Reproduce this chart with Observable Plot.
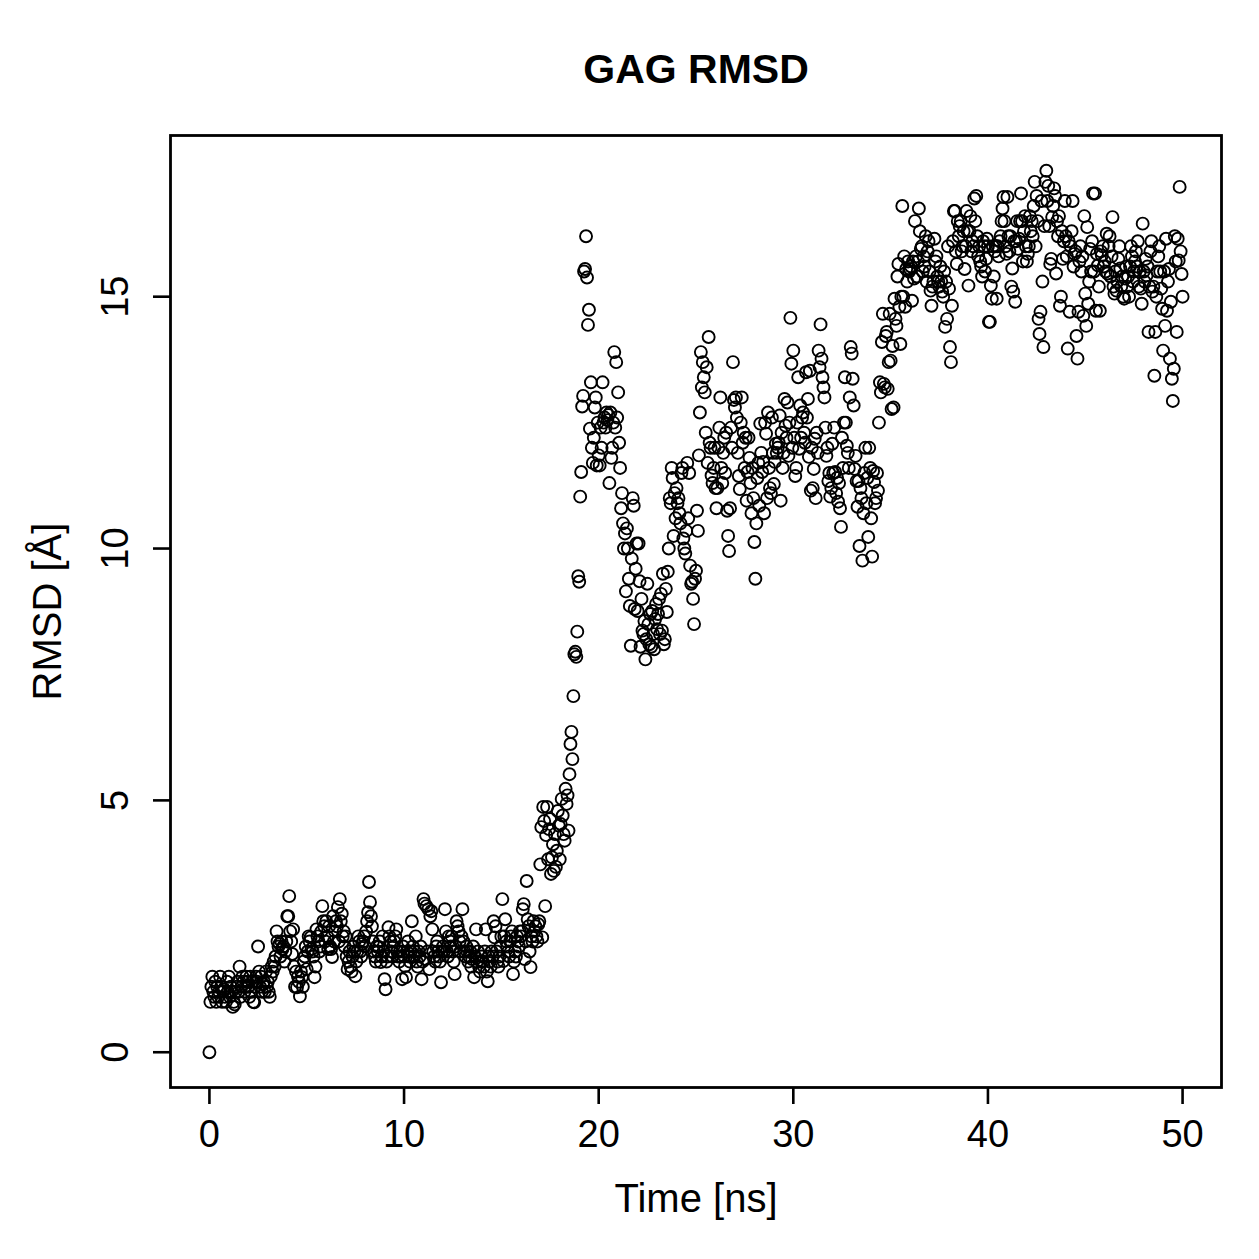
<!DOCTYPE html>
<html>
<head>
<meta charset="utf-8">
<script src="https://cdn.jsdelivr.net/npm/d3@7"></script>
<script src="https://cdn.jsdelivr.net/npm/@observablehq/plot@0.6"></script>
<style>
  html, body { margin: 0; padding: 0; background: #fff; }
</style>
</head>
<body>
<div id="chart"></div>
<script>
// GAG backbone RMSD over a 50 ns trajectory, one frame every 0.05 ns.
const timeStep = 0.05;

// RMSD values (Å), one row per nanosecond (20 frames each), final frame at 50 ns.
const rmsdRows = [
  [0.0,1.0,1.3,1.5,1.2,1.1,1.4,1.0,1.3,1.1,1.2,1.5,1.3,1.0,1.2,1.25,1.1,1.0,1.4,1.2],
  [1.5,1.1,1.3,1.2,0.9,1.0,0.95,1.2,1.3,1.4,1.2,1.7,1.1,1.3,1.5,1.4,1.2,1.3,1.5,1.4],
  [1.3,1.1,1.5,1.2,1.4,1.0,0.99,1.3,1.5,1.4,2.1,1.6,1.3,1.5,1.2,1.35,1.4,1.2,1.6,1.3],
  [1.4,1.2,1.1,1.5,1.7,1.6,1.8,1.7,1.9,2.4,2.2,2.1,2.15,1.9,2.2,2.05,2.1,1.8,2.0,2.2],
  [2.7,2.7,3.1,2.4,2.2,1.95,2.44,1.7,1.3,1.6,1.29,1.5,1.4,1.11,1.6,1.49,1.3,1.8,1.9,2.1],
  [1.65,2.0,2.3,2.2,2.28,2.05,2.0,1.9,1.49,1.7,2.44,2.3,2.2,2.0,2.1,2.4,2.9,2.6,2.5,2.2],
  [2.6,2.3,2.05,2.5,2.1,2.05,1.89,2.7,2.2,2.4,2.6,2.5,2.88,2.2,3.04,2.6,2.75,2.3,2.4,2.1],
  [2.3,1.9,1.65,1.8,2.0,1.7,1.6,1.9,2.1,2.0,1.51,1.8,2.0,2.3,2.2,2.0,1.9,2.15,2.2,2.3],
  [2.1,2.4,2.6,2.78,3.38,2.98,2.7,2.5,2.2,2.0,1.9,1.8,2.1,2.0,2.09,2.2,1.79,1.9,2.3,2.0],
  [1.45,1.25,1.8,1.9,2.48,2.3,2.2,2.0,1.9,2.1,2.2,2.3,2.44,2.0,1.9,1.8,2.0,1.9,1.45,2.1],
  [1.91,1.71,1.49,2.0,2.2,1.9,1.8,2.0,2.6,2.1,1.9,2.0,2.3,1.8,1.7,2.0,1.9,2.1,1.45,1.8],
  [3.04,2.95,1.85,2.9,2.0,2.84,1.65,2.7,2.8,2.44,2.0,1.9,1.8,2.1,2.2,2.0,1.9,1.8,1.39,2.0],
  [2.1,2.0,2.84,2.4,2.0,1.9,2.3,2.2,2.1,2.3,2.0,1.8,1.55,2.1,2.6,2.5,2.4,2.2,2.0,2.3],
  [2.84,2.2,2.0,1.9,2.1,2.0,1.8,1.9,2.0,1.7,1.85,2.1,1.49,1.9,2.44,1.8,2.0,1.7,1.6,1.8],
  [1.9,1.8,1.7,2.0,2.44,1.6,1.41,1.9,1.8,1.7,2.0,1.9,2.6,2.28,2.5,2.0,1.8,1.7,1.9,2.1],
  [2.3,3.04,1.81,2.3,2.64,2.2,2.1,2.0,1.9,2.2,2.3,2.4,1.55,1.8,2.0,1.9,2.3,2.2,2.1,2.4],
  [2.3,2.4,2.84,2.94,1.85,2.2,3.4,2.64,2.5,2.0,1.69,2.3,2.2,2.6,2.4,2.5,2.3,2.2,2.54,2.6],
  [3.73,4.47,2.28,4.87,4.59,2.9,4.31,4.87,3.83,4.43,4.63,3.54,3.87,4.13,3.6,4.33,3.68,4.0,4.79,4.5],
  [3.83,4.53,5.03,4.7,4.33,4.2,5.23,4.93,5.1,4.4,5.52,6.12,6.36,5.82,7.07,7.9,7.95,7.85,8.35,9.45],
  [9.34,11.03,11.52,12.82,13.03,15.5,15.55,16.2,15.38,14.44,14.74,12.38,13.3,12.0,11.7,12.2,12.8,13.0,11.65,12.5],
  [11.85,11.65,12.4,12.0,13.3,12.5,12.6,12.4,12.7,12.55,12.65,11.3,12.7,11.8,12.0,12.5,13.9,12.4,13.7,12.6],
  [13.1,12.1,11.6,10.8,11.1,10.5,10.0,10.3,9.15,10.4,10.0,9.4,8.86,8.07,9.8,11.0,10.85,8.8,9.6,10.1],
  [8.76,10.1,9.35,8.05,9.0,8.37,8.3,8.56,7.8,8.2,9.3,8.5,8.1,8.7,8.05,8.76,8.3,8.0,8.6,8.9],
  [8.4,8.7,9.0,8.3,9.1,8.37,9.5,8.1,8.2,9.2,8.74,9.54,10.0,11.0,10.9,11.6,11.4,10.25,11.1,10.6],
  [11.2,10.9,11.0,10.7,10.5,11.5,11.6,10.2,10.0,9.9,10.35,11.7,10.6,11.5,9.66,9.3,9.34,9.0,8.5,9.4],
  [9.56,10.75,10.35,11.85,12.7,13.9,13.2,13.7,13.4,13.1,12.3,13.6,11.7,14.2,12.1,12.0,11.45,11.3,11.6,12.0],
  [11.2,10.8,11.2,12.0,12.4,13.0,11.6,11.3,11.9,12.2,11.5,12.3,10.75,10.25,9.95,10.8,12.4,12.0,13.7,12.95],
  [12.8,13.0,12.6,11.9,11.44,11.18,12.5,13.0,12.1,12.3,11.6,12.2,10.95,11.52,12.2,11.8,11.3,10.7,11.6,11.0],
  [10.13,9.4,10.5,11.4,11.7,10.85,12.48,11.9,11.52,11.72,10.7,12.5,12.28,11.0,12.7,11.6,11.2,11.1,12.6,11.9],
  [11.28,11.72,12.08,11.9,12.0,12.1,12.64,10.95,12.3,11.6,11.9,12.97,12.44,12.2,12.9,11.84,12.5,14.58,13.67,12.0],
  [13.93,12.2,11.44,11.6,12.5,13.4,11.98,12.84,12.2,12.6,12.7,12.3,12.1,13.5,12.6,12.97,11.82,13.53,11.15,12.0],
  [11.2,11.58,12.18,11.0,12.3,11.9,13.93,13.6,14.45,13.77,13.4,13.2,13.0,12.4,11.84,12.0,11.34,11.5,11.03,11.2],
  [12.08,11.5,12.4,11.52,11.1,11.4,10.93,11.3,10.8,10.43,12.2,11.6,12.5,13.4,12.5,12.04,11.9,11.6,13.0,14.0],
  [13.87,13.37,12.84,11.58,11.84,11.34,10.83,11.34,10.05,11.2,11.0,9.76,10.7,11.5,12.0,10.9,11.4,10.23,12.0,11.6],
  [10.6,9.84,11.54,11.32,10.9,11.0,11.5,11.15,12.5,13.3,13.1,14.1,14.66,13.27,13.2,14.22,14.3,13.17,13.7,14.66],
  [13.73,12.77,14.02,12.8,14.96,14.56,14.42,15.4,15.65,14.8,14.06,15.0,16.8,15.0,15.8,14.8,15.55,15.3,15.7,15.5],
  [15.55,15.6,14.92,15.7,15.36,16.5,15.8,15.4,15.7,16.75,16.3,15.95,16.0,15.5,15.8,15.6,16.2,15.3,15.9,16.1],
  [15.5,15.12,14.82,15.2,15.3,16.15,15.7,15.8,15.4,15.3,15.2,15.6,15.3,15.1,15.0,15.5,14.4,15.3,14.56,16.0],
  [15.16,14.0,13.7,14.82,16.1,16.7,16.7,15.9,15.65,16.5,16.2,16.4,16.5,15.9,16.0,16.3,15.55,16.0,16.7,16.3],
  [15.22,16.3,16.6,15.9,16.1,16.0,16.95,16.5,17.0,16.2,15.8,16.0,15.7,15.6,15.4,16.1,16.0,15.5,15.75,16.15],
  [16.0,14.5,14.5,15.22,14.96,16.0,15.4,15.9,16.0,14.96,16.0,15.8,16.1,16.2,16.5,16.75,16.98,16.5,16.0,15.85],
  [16.98,16.2,15.9,16.2,15.2,15.56,15.1,16.1,14.9,16.1,16.5,15.95,16.15,16.5,17.05,16.5,15.7,16.3,16.6,16.0],
  [15.7,15.85,16.0,16.6,16.3,16.5,16.2,16.8,17.28,16.0,17.0,16.5,14.56,14.26,14.7,16.9,15.3,14.0,16.4,17.28],
  [17.5,16.9,17.2,16.4,15.65,15.75,16.58,16.8,17.15,17.0,15.46,16.5,16.2,16.6,14.82,15.0,16.3,15.75,16.1,16.9],
  [16.2,15.8,13.97,16.1,14.7,16.0,16.3,16.9,15.6,15.85,15.9,14.22,13.77,14.7,15.7,16.0,15.5,15.8,14.62,16.6],
  [15.06,14.42,16.38,14.86,15.3,15.95,15.5,16.1,17.05,15.5,17.05,14.72,15.85,15.62,15.2,14.72,15.9,15.82,16.0,15.6],
  [15.7,15.5,16.25,15.46,16.0,16.2,15.4,15.8,16.58,15.2,15.06,15.5,15.12,15.3,15.75,16.0,15.56,15.2,15.4,15.0],
  [14.96,15.36,15.6,15.2,15.4,15.0,15.6,16.0,15.8,15.3,15.5,15.7,15.9,15.6,16.1,15.2,15.5,15.16,14.86,16.45],
  [15.5,15.3,15.75,15.42,15.6,14.3,15.2,15.9,16.1,15.1,15.2,13.43,14.3,15.0,15.5,15.8,16.0,15.5,15.16,14.76],
  [13.93,15.5,14.42,16.15,14.72,15.3,15.55,13.77,14.9,13.37,12.93,13.57,16.2,15.7,14.3,16.15,15.72,17.18,15.9,15.45],
  [15.0]
];

const xTicks = [0, 10, 20, 30, 40, 50];
const yTicks = [0, 5, 10, 15];

const titleText = "GAG RMSD";
const xLabel = "Time [ns]";
const yLabel = "RMSD [Å]";

// Frames in time order.
const rmsd = rmsdRows.flat();
const frames = rmsd.map((value, i) => ({time: +(i * timeStep).toFixed(2), rmsd: value}));

// Axis ranges padded by 4% on each side.
const pad = ([lo, hi]) => { const e = (hi - lo) * 0.04; return [lo - e, hi + e]; };
const xDomain = pad(d3.extent(frames, d => d.time));
const yDomain = pad(d3.extent(frames, d => d.rmsd));

const font = "'Liberation Sans', Arial, Helvetica, sans-serif";

const chart = Plot.plot({
  width: 1259,
  height: 1259,
  marginLeft: 170,
  marginRight: 38,
  marginTop: 135,
  marginBottom: 172,
  style: {fontFamily: font, background: "#fff", color: "#000", overflow: "visible"},
  x: {domain: xDomain},
  y: {domain: yDomain},
  marks: [
    Plot.dot(frames, {x: "time", y: "rmsd", r: 6, stroke: "#000", strokeWidth: 1.9, fill: "none"}),
    Plot.frame({stroke: "#000", strokeWidth: 2.8}),
    Plot.axisX(xTicks, {tickSize: 17, tickPadding: 16, fontSize: 38, strokeWidth: 2.6, label: null, tickFormat: d => String(d)}),
    Plot.axisY(yTicks, {tickSize: 17, strokeWidth: 2.6, label: null, tickFormat: () => ""}),
    Plot.text(yTicks, {y: d => d, text: d => String(d), frameAnchor: "left", dx: -55, rotate: -90,
      textAnchor: "middle", lineAnchor: "middle", fontSize: 38, fill: "#000"}),
    Plot.text([xLabel], {frameAnchor: "bottom", dy: 112, lineAnchor: "middle", textAnchor: "middle", fontSize: 40, fill: "#000"}),
    Plot.text([yLabel], {frameAnchor: "left", dx: -122, rotate: -90, lineAnchor: "middle", textAnchor: "middle", fontSize: 40, fill: "#000"}),
    Plot.text([titleText], {frameAnchor: "top", dy: -66, lineAnchor: "middle", textAnchor: "middle", fontSize: 41, fontWeight: "bold", fill: "#000"})
  ]
});

document.getElementById("chart").appendChild(chart);
</script>
</body>
</html>
